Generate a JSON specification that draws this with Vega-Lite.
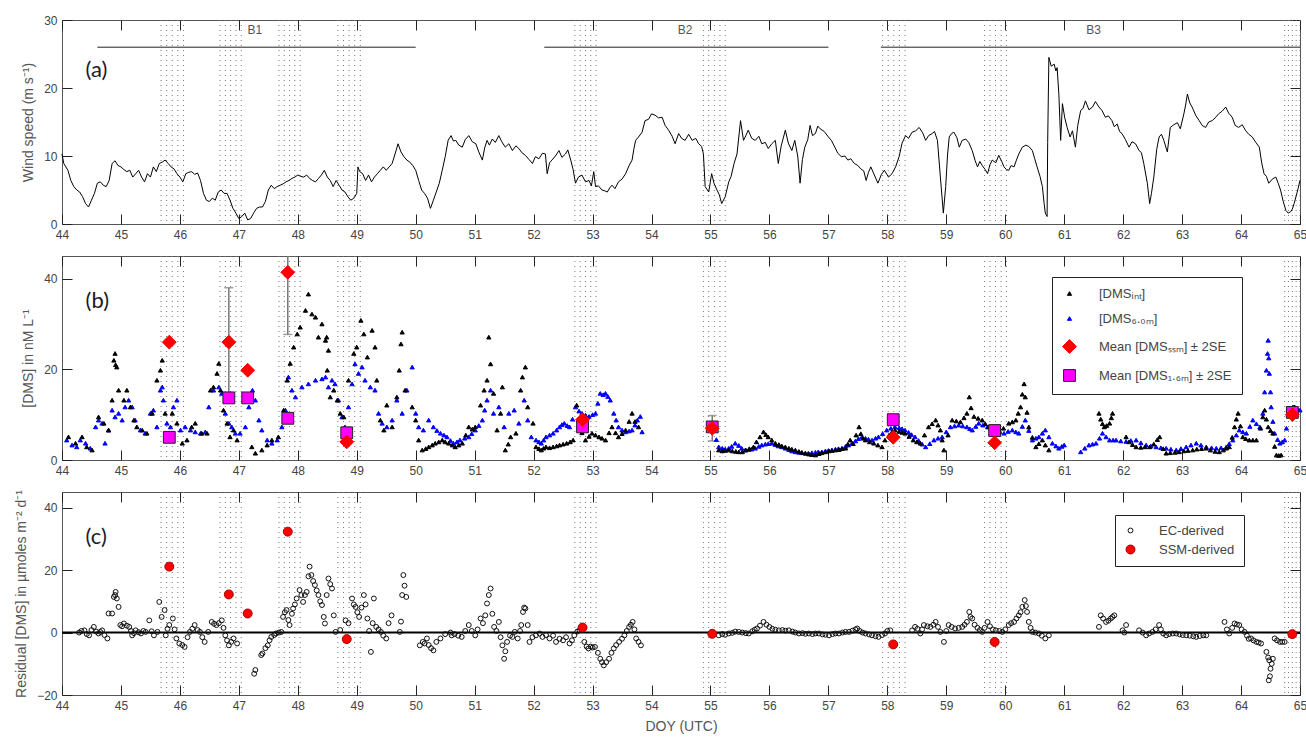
{
"$schema":"https://vega.github.io/schema/vega-lite/v6.json",
"background":"white",
"padding":{"left":14,"top":13,"right":0,"bottom":0},
"bounds":"flush",
"spacing":32,
"resolve":{"scale":{"fill":"independent","stroke":"independent","size":"independent","shape":"independent"},"legend":{"fill":"independent","stroke":"independent","size":"independent","shape":"independent"}},
"config":{
 "font":"Liberation Sans",
 "view":{"stroke":"#555","strokeWidth":1},
 "axis":{"grid":false,"domain":false,"tickSize":-10,"tickColor":"#222","tickWidth":1,"labelPadding":15,"labelColor":"#444","labelFontSize":12,"titleColor":"#555","titleFontSize":14,"titleFontWeight":"normal","labelFlush":false,"titlePadding":8}
},
"datasets":{
 "bands":[{"doy":45.68},{"doy":45.775},{"doy":45.87},{"doy":45.965},{"doy":46.06},
  {"doy":46.68},{"doy":46.77},{"doy":46.86},{"doy":46.95},{"doy":47.04},
  {"doy":47.68},{"doy":47.77},{"doy":47.86},{"doy":47.95},{"doy":48.04},
  {"doy":48.68},{"doy":48.775},{"doy":48.87},{"doy":48.965},{"doy":49.06},
  {"doy":52.70},{"doy":52.79},{"doy":52.88},{"doy":52.97},{"doy":53.06},
  {"doy":54.88},{"doy":54.97},{"doy":55.065},{"doy":55.16},{"doy":55.25},
  {"doy":57.92},{"doy":58.015},{"doy":58.11},{"doy":58.205},{"doy":58.30},
  {"doy":59.65},{"doy":59.74},{"doy":59.835},{"doy":59.93},{"doy":60.02},
  {"doy":64.74},{"doy":64.805},{"doy":64.87},{"doy":64.935},{"doy":65.0}],
 "blines":[{"label":"B1","start":44.6,"end":50.0,"mid":47.27},{"label":"B2","start":52.18,"end":57.0,"mid":54.57},{"label":"B3","start":57.89,"end":65.0,"mid":61.5}],
 "wind":[
{"doy":44.0,"ws":10.3},{"doy":44.03,"ws":8.9},{"doy":44.1,"ws":7.9},{"doy":44.15,"ws":6.4},{"doy":44.2,"ws":5.5},{"doy":44.25,"ws":5.0},{"doy":44.3,"ws":4.7},{"doy":44.35,"ws":4.0},{"doy":44.4,"ws":3.0},{"doy":44.45,"ws":2.5},{"doy":44.5,"ws":3.5},{"doy":44.55,"ws":4.5},{"doy":44.6,"ws":6.0},{"doy":44.65,"ws":6.2},{"doy":44.7,"ws":5.7},{"doy":44.75,"ws":5.5},{"doy":44.8,"ws":6.4},{"doy":44.85,"ws":8.9},{"doy":44.9,"ws":9.3},{"doy":44.95,"ws":8.6},{"doy":45.0,"ws":8.4},{"doy":45.05,"ws":8.0},{"doy":45.1,"ws":7.7},{"doy":45.15,"ws":7.9},{"doy":45.2,"ws":6.9},{"doy":45.25,"ws":7.4},{"doy":45.3,"ws":7.9},{"doy":45.35,"ws":6.9},{"doy":45.4,"ws":6.2},{"doy":45.45,"ws":7.4},{"doy":45.5,"ws":6.9},{"doy":45.55,"ws":8.4},{"doy":45.6,"ws":7.7},{"doy":45.65,"ws":8.9},{"doy":45.7,"ws":9.1},{"doy":45.75,"ws":9.4},{"doy":45.8,"ws":8.9},{"doy":45.85,"ws":8.4},{"doy":45.9,"ws":8.1},{"doy":45.95,"ws":7.4},{"doy":46.0,"ws":6.9},{"doy":46.05,"ws":6.2},{"doy":46.1,"ws":7.4},{"doy":46.15,"ws":7.6},{"doy":46.2,"ws":7.7},{"doy":46.25,"ws":7.3},{"doy":46.3,"ws":7.5},{"doy":46.35,"ws":6.4},{"doy":46.4,"ws":4.5},{"doy":46.45,"ws":3.5},{"doy":46.5,"ws":3.3},{"doy":46.55,"ws":3.8},{"doy":46.6,"ws":3.5},{"doy":46.65,"ws":4.7},{"doy":46.7,"ws":5.0},{"doy":46.75,"ws":4.5},{"doy":46.8,"ws":4.5},{"doy":46.85,"ws":3.5},{"doy":46.9,"ws":2.3},{"doy":46.95,"ws":1.6},{"doy":47.0,"ws":0.8},{"doy":47.05,"ws":1.1},{"doy":47.1,"ws":1.6},{"doy":47.15,"ws":0.6},{"doy":47.2,"ws":0.8},{"doy":47.25,"ws":1.6},{"doy":47.3,"ws":2.3},{"doy":47.35,"ws":2.5},{"doy":47.4,"ws":2.5},{"doy":47.45,"ws":3.3},{"doy":47.5,"ws":5.0},{"doy":47.55,"ws":5.7},{"doy":47.6,"ws":5.2},{"doy":47.65,"ws":5.5},{"doy":47.7,"ws":5.7},{"doy":47.75,"ws":5.9},{"doy":47.8,"ws":6.2},{"doy":47.85,"ws":6.4},{"doy":47.9,"ws":6.7},{"doy":47.95,"ws":6.9},{"doy":48.0,"ws":7.2},{"doy":48.05,"ws":7.0},{"doy":48.1,"ws":6.9},{"doy":48.15,"ws":7.2},{"doy":48.2,"ws":6.7},{"doy":48.25,"ws":6.4},{"doy":48.3,"ws":6.2},{"doy":48.35,"ws":6.7},{"doy":48.4,"ws":7.2},{"doy":48.45,"ws":7.9},{"doy":48.5,"ws":6.9},{"doy":48.55,"ws":6.4},{"doy":48.6,"ws":5.5},{"doy":48.65,"ws":6.4},{"doy":48.7,"ws":5.7},{"doy":48.75,"ws":5.0},{"doy":48.8,"ws":4.7},{"doy":48.85,"ws":4.0},{"doy":48.9,"ws":3.5},{"doy":48.95,"ws":3.8},{"doy":49.0,"ws":4.5},{"doy":49.02,"ws":8.4},{"doy":49.05,"ws":7.7},{"doy":49.1,"ws":7.4},{"doy":49.15,"ws":6.4},{"doy":49.2,"ws":7.2},{"doy":49.25,"ws":6.2},{"doy":49.3,"ws":6.9},{"doy":49.35,"ws":7.4},{"doy":49.4,"ws":7.9},{"doy":49.45,"ws":8.4},{"doy":49.5,"ws":7.9},{"doy":49.55,"ws":8.4},{"doy":49.6,"ws":8.9},{"doy":49.65,"ws":10.3},{"doy":49.7,"ws":11.8},{"doy":49.75,"ws":10.6},{"doy":49.8,"ws":9.9},{"doy":49.85,"ws":9.4},{"doy":49.9,"ws":9.1},{"doy":49.95,"ws":8.6},{"doy":50.0,"ws":7.9},{"doy":50.05,"ws":6.4},{"doy":50.1,"ws":5.0},{"doy":50.15,"ws":4.5},{"doy":50.2,"ws":3.8},{"doy":50.25,"ws":2.3},{"doy":50.3,"ws":3.5},{"doy":50.4,"ws":6.0},{"doy":50.45,"ws":7.9},{"doy":50.5,"ws":9.9},{"doy":50.55,"ws":12.3},
{"doy":50.6,"ws":13.0},{"doy":50.64,"ws":12.2},{"doy":50.68,"ws":12.3},{"doy":50.73,"ws":11.6},{"doy":50.79,"ws":11.3},{"doy":50.84,"ws":12.4},{"doy":50.9,"ws":13.0},{"doy":50.96,"ws":12.1},{"doy":51.02,"ws":11.8},{"doy":51.07,"ws":10.6},{"doy":51.13,"ws":9.4},{"doy":51.17,"ws":11.2},{"doy":51.21,"ws":12.3},{"doy":51.25,"ws":11.6},{"doy":51.3,"ws":12.5},{"doy":51.35,"ws":12.0},{"doy":51.41,"ws":13.0},{"doy":51.46,"ws":12.1},{"doy":51.52,"ws":11.3},{"doy":51.58,"ws":11.8},{"doy":51.64,"ws":10.8},{"doy":51.7,"ws":11.5},{"doy":51.75,"ws":11.1},{"doy":51.8,"ws":10.5},{"doy":51.86,"ws":10.1},{"doy":51.92,"ws":9.5},{"doy":51.98,"ws":8.9},{"doy":52.03,"ws":9.9},{"doy":52.09,"ws":9.6},{"doy":52.15,"ws":10.4},{"doy":52.2,"ws":10.3},{"doy":52.23,"ws":7.4},{"doy":52.27,"ws":9.0},{"doy":52.31,"ws":9.4},{"doy":52.37,"ws":10.0},{"doy":52.43,"ws":10.8},{"doy":52.48,"ws":9.8},{"doy":52.54,"ws":10.3},{"doy":52.58,"ws":10.9},{"doy":52.63,"ws":9.4},{"doy":52.67,"ws":8.0},{"doy":52.71,"ws":6.0},{"doy":52.76,"ws":6.9},{"doy":52.82,"ws":7.2},{"doy":52.88,"ws":6.2},{"doy":52.94,"ws":6.4},{"doy":52.98,"ws":5.6},{"doy":53.02,"ws":7.7},{"doy":53.05,"ws":5.5},{"doy":53.1,"ws":5.6},{"doy":53.16,"ws":5.0},{"doy":53.2,"ws":4.9},{"doy":53.25,"ws":4.7},{"doy":53.29,"ws":5.3},{"doy":53.33,"ws":5.7},{"doy":53.38,"ws":5.2},{"doy":53.44,"ws":6.2},{"doy":53.5,"ws":6.6},{"doy":53.56,"ws":7.4},{"doy":53.62,"ws":8.6},{"doy":53.67,"ws":9.4},{"doy":53.7,"ws":11.0},{"doy":53.73,"ws":12.3},{"doy":53.78,"ws":12.8},{"doy":53.84,"ws":13.5},{"doy":53.89,"ws":15.2},{"doy":53.95,"ws":15.4},{"doy":54.0,"ws":16.2},{"doy":54.06,"ws":16.0},{"doy":54.12,"ws":15.6},{"doy":54.18,"ws":15.7},{"doy":54.23,"ws":14.5},{"doy":54.29,"ws":13.8},{"doy":54.35,"ws":12.9},{"doy":54.4,"ws":11.8},{"doy":54.46,"ws":13.3},{"doy":54.51,"ws":12.6},{"doy":54.57,"ws":12.3},{"doy":54.63,"ws":13.2},{"doy":54.69,"ws":12.3},{"doy":54.75,"ws":12.6},{"doy":54.8,"ws":11.8},{"doy":54.85,"ws":11.4},{"doy":54.88,"ws":10.3},{"doy":54.91,"ws":5.5},{"doy":54.97,"ws":4.7},{"doy":55.02,"ws":7.4},{"doy":55.06,"ws":6.0},{"doy":55.11,"ws":5.0},{"doy":55.15,"ws":4.3},{"doy":55.19,"ws":3.0},{"doy":55.25,"ws":4.0},{"doy":55.31,"ws":6.2},{"doy":55.35,"ws":7.0},{"doy":55.4,"ws":8.9},{"doy":55.45,"ws":10.3},{"doy":55.51,"ws":15.2},{"doy":55.56,"ws":12.3},{"doy":55.6,"ws":13.0},{"doy":55.64,"ws":13.8},{"doy":55.7,"ws":12.6},{"doy":55.76,"ws":12.3},{"doy":55.82,"ws":12.9},{"doy":55.87,"ws":11.8},{"doy":55.93,"ws":12.0},{"doy":55.98,"ws":11.1},{"doy":56.04,"ws":11.8},{"doy":56.1,"ws":12.3},{"doy":56.15,"ws":8.9},{"doy":56.2,"ws":11.5},{"doy":56.27,"ws":13.8},{"doy":56.32,"ws":11.9},{"doy":56.38,"ws":10.8},{"doy":56.43,"ws":12.3},{"doy":56.48,"ws":10.0},{"doy":56.52,"ws":6.0},{"doy":56.56,"ws":9.5},{"doy":56.6,"ws":11.3},{"doy":56.65,"ws":12.4},{"doy":56.69,"ws":14.5},{"doy":56.73,"ws":13.0},{"doy":56.78,"ws":13.3},{"doy":56.82,"ws":14.4},{"doy":56.86,"ws":14.0},{"doy":56.93,"ws":13.6},{"doy":57.0,"ws":12.8},{"doy":57.05,"ws":12.3},{"doy":57.11,"ws":11.3},{"doy":57.16,"ws":10.4},{"doy":57.22,"ws":9.9},{"doy":57.28,"ws":10.0},{"doy":57.33,"ws":9.4},{"doy":57.38,"ws":9.6},{"doy":57.44,"ws":8.9},{"doy":57.5,"ws":8.6},{"doy":57.55,"ws":8.1},{"doy":57.6,"ws":7.8},{"doy":57.64,"ws":6.4},{"doy":57.68,"ws":7.6},{"doy":57.72,"ws":8.4},{"doy":57.78,"ws":7.2},{"doy":57.84,"ws":6.0},{"doy":57.9,"ws":7.3},{"doy":57.95,"ws":7.9},{"doy":58.02,"ws":6.9},{"doy":58.08,"ws":7.4},{"doy":58.14,"ws":8.4},{"doy":58.2,"ws":9.9},{"doy":58.25,"ws":11.9},{"doy":58.31,"ws":13.0},{"doy":58.36,"ws":12.6},{"doy":58.42,"ws":13.5},{"doy":58.48,"ws":13.7},{"doy":58.54,"ws":14.2},{"doy":58.6,"ws":13.4},{"doy":58.65,"ws":12.3},{"doy":58.7,"ws":13.0},{"doy":58.76,"ws":13.3},{"doy":58.8,"ws":13.6},{"doy":58.85,"ws":12.3},{"doy":58.9,"ws":6.9},{"doy":58.95,"ws":1.6},{"doy":58.99,"ws":5.5},{"doy":59.02,"ws":10.0},{"doy":59.05,"ws":12.8},{"doy":59.09,"ws":13.3},{"doy":59.13,"ws":13.5},{"doy":59.18,"ws":12.7},{"doy":59.22,"ws":11.3},{"doy":59.27,"ws":12.3},{"doy":59.33,"ws":12.5},{"doy":59.38,"ws":12.0},{"doy":59.44,"ws":10.8},{"doy":59.49,"ws":9.3},{"doy":59.53,"ws":8.4},{"doy":59.57,"ws":9.2},{"doy":59.61,"ws":8.6},{"doy":59.66,"ws":8.0},{"doy":59.7,"ws":7.4},{"doy":59.74,"ws":8.7},{"doy":59.78,"ws":9.4},{"doy":59.84,"ws":9.0},{"doy":59.89,"ws":10.1},{"doy":59.94,"ws":9.2},{"doy":59.98,"ws":8.4},{"doy":60.02,"ws":8.0},{"doy":60.06,"ws":7.9},{"doy":60.1,"ws":8.6},{"doy":60.15,"ws":8.4},{"doy":60.19,"ws":9.4},{"doy":60.23,"ws":10.3},{"doy":60.29,"ws":11.3},{"doy":60.35,"ws":11.6},{"doy":60.4,"ws":11.4},{"doy":60.46,"ws":10.8},{"doy":60.5,"ws":9.6},{"doy":60.54,"ws":8.4},{"doy":60.59,"ws":7.0},{"doy":60.63,"ws":5.5},{"doy":60.66,"ws":3.0},{"doy":60.68,"ws":1.6},{"doy":60.71,"ws":1.1},{"doy":60.72,"ws":12.0},{"doy":60.74,"ws":24.5},{"doy":60.78,"ws":23.2},{"doy":60.83,"ws":23.5},{"doy":60.86,"ws":22.5},{"doy":60.88,"ws":23.0},{"doy":60.91,"ws":19.0},{"doy":60.94,"ws":12.3},{"doy":60.97,"ws":17.7},{"doy":61.01,"ws":15.6},{"doy":61.05,"ws":14.2},{"doy":61.1,"ws":12.8},{"doy":61.14,"ws":13.7},{"doy":61.19,"ws":11.3},{"doy":61.23,"ws":14.5},{"doy":61.28,"ws":16.7},{"doy":61.32,"ws":17.0},{"doy":61.36,"ws":18.1},{"doy":61.42,"ws":16.8},{"doy":61.48,"ws":17.2},{"doy":61.53,"ws":18.0},{"doy":61.59,"ws":17.2},{"doy":61.64,"ws":16.7},{"doy":61.7,"ws":15.7},{"doy":61.75,"ws":15.9},{"doy":61.81,"ws":15.2},{"doy":61.85,"ws":14.3},{"doy":61.9,"ws":14.7},{"doy":61.94,"ws":13.6},{"doy":61.98,"ws":13.3},{"doy":62.04,"ws":12.4},{"doy":62.1,"ws":11.3},{"doy":62.15,"ws":12.1},{"doy":62.21,"ws":11.8},{"doy":62.27,"ws":10.8},{"doy":62.31,"ws":10.5},{"doy":62.35,"ws":8.9},{"doy":62.41,"ws":6.0},{"doy":62.45,"ws":3.0},{"doy":62.48,"ws":4.5},{"doy":62.52,"ws":6.9},{"doy":62.57,"ws":11.0},{"doy":62.61,"ws":12.8},{"doy":62.65,"ws":13.2},{"doy":62.69,"ws":12.3},{"doy":62.75,"ws":10.6},{"doy":62.8,"ws":14.2},{"doy":62.86,"ws":14.6},{"doy":62.92,"ws":14.9},{"doy":62.97,"ws":14.0},{"doy":63.03,"ws":16.2},{"doy":63.06,"ws":17.5},{"doy":63.09,"ws":19.1},{"doy":63.13,"ws":17.8},{"doy":63.17,"ws":17.2},{"doy":63.23,"ws":16.0},{"doy":63.29,"ws":15.2},{"doy":63.34,"ws":14.5},{"doy":63.4,"ws":14.2},{"doy":63.45,"ws":15.0},{"doy":63.51,"ws":15.2},{"doy":63.56,"ws":15.6},{"doy":63.62,"ws":16.2},{"doy":63.68,"ws":16.6},{"doy":63.74,"ws":17.2},{"doy":63.79,"ws":16.3},{"doy":63.85,"ws":15.7},{"doy":63.9,"ws":14.5},{"doy":63.96,"ws":14.2},{"doy":64.02,"ws":14.6},{"doy":64.08,"ws":13.7},{"doy":64.13,"ws":13.2},{"doy":64.19,"ws":12.8},{"doy":64.25,"ws":12.0},{"doy":64.31,"ws":11.3},{"doy":64.35,"ws":9.0},{"doy":64.39,"ws":7.4},{"doy":64.43,"ws":7.0},{"doy":64.47,"ws":6.0},{"doy":64.53,"ws":6.6},{"doy":64.59,"ws":6.9},{"doy":64.63,"ws":6.0},{"doy":64.67,"ws":5.0},{"doy":64.71,"ws":3.5},{"doy":64.76,"ws":2.0},{"doy":64.8,"ws":1.6},{"doy":64.84,"ws":1.8},{"doy":64.87,"ws":2.2},{"doy":64.9,"ws":3.0},{"doy":64.95,"ws":4.6},{"doy":65.0,"ws":6.4}],
 "err":[{"doy":46.83,"lo":14.0,"hi":38.0},{"doy":47.83,"lo":27.7,"hi":55.0},{"doy":55.03,"lo":4.2,"hi":9.8}],
 "dms":[
{"doy":44.08,"v":4.4,"s":"6.0m"},{"doy":44.17,"v":3.3,"s":"6.0m"},{"doy":44.25,"v":2.9,"s":"6.0m"},{"doy":44.31,"v":4.4,"s":"6.0m"},{"doy":44.4,"v":3.7,"s":"6.0m"},{"doy":44.48,"v":2.6,"s":"6.0m"},{"doy":44.57,"v":7.3,"s":"6.0m"},{"doy":44.62,"v":8.8,"s":"6.0m"},{"doy":44.68,"v":8.1,"s":"6.0m"},{"doy":44.73,"v":3.7,"s":"6.0m"},{"doy":44.79,"v":6.6,"s":"6.0m"},{"doy":44.85,"v":11.0,"s":"6.0m"},{"doy":44.9,"v":9.5,"s":"6.0m"},{"doy":44.96,"v":10.3,"s":"6.0m"},{"doy":45.02,"v":8.8,"s":"6.0m"},{"doy":45.07,"v":11.7,"s":"6.0m"},{"doy":45.13,"v":13.2,"s":"6.0m"},{"doy":45.19,"v":11.7,"s":"6.0m"},{"doy":45.24,"v":8.8,"s":"6.0m"},{"doy":45.33,"v":6.6,"s":"6.0m"},{"doy":45.41,"v":5.9,"s":"6.0m"},{"doy":45.5,"v":10.3,"s":"6.0m"},{"doy":45.55,"v":11.0,"s":"6.0m"},{"doy":45.61,"v":7.3,"s":"6.0m"},{"doy":45.67,"v":15.4,"s":"6.0m"},{"doy":45.7,"v":16.1,"s":"6.0m"},{"doy":45.72,"v":13.2,"s":"6.0m"},{"doy":45.78,"v":8.1,"s":"6.0m"},{"doy":45.84,"v":7.3,"s":"6.0m"},{"doy":45.89,"v":11.7,"s":"6.0m"},{"doy":45.95,"v":13.2,"s":"6.0m"},{"doy":46.01,"v":6.6,"s":"6.0m"},{"doy":46.09,"v":7.3,"s":"6.0m"},{"doy":46.18,"v":6.6,"s":"6.0m"},{"doy":46.26,"v":6.2,"s":"6.0m"},{"doy":46.35,"v":5.9,"s":"6.0m"},{"doy":46.43,"v":6.2,"s":"6.0m"},{"doy":46.49,"v":11.7,"s":"6.0m"},{"doy":46.57,"v":15.4,"s":"6.0m"},{"doy":46.66,"v":16.1,"s":"6.0m"},{"doy":46.71,"v":14.7,"s":"6.0m"},{"doy":46.77,"v":10.3,"s":"6.0m"},{"doy":46.83,"v":8.1,"s":"6.0m"},{"doy":46.88,"v":7.3,"s":"6.0m"},{"doy":46.94,"v":5.9,"s":"6.0m"},{"doy":47.02,"v":5.9,"s":"6.0m"},{"doy":47.11,"v":7.3,"s":"6.0m"},{"doy":47.17,"v":11.7,"s":"6.0m"},{"doy":47.23,"v":15.4,"s":"6.0m"},{"doy":47.28,"v":13.2,"s":"6.0m"},{"doy":47.34,"v":8.8,"s":"6.0m"},{"doy":47.39,"v":6.6,"s":"6.0m"},{"doy":47.48,"v":4.4,"s":"6.0m"},{"doy":47.56,"v":3.7,"s":"6.0m"},{"doy":47.65,"v":4.4,"s":"6.0m"},{"doy":47.73,"v":7.3,"s":"6.0m"},{"doy":47.79,"v":11.0,"s":"6.0m"},{"doy":47.84,"v":18.3,"s":"6.0m"},{"doy":47.9,"v":15.4,"s":"6.0m"},{"doy":47.96,"v":13.9,"s":"6.0m"},{"doy":48.07,"v":16.1,"s":"6.0m"},{"doy":48.18,"v":16.8,"s":"6.0m"},{"doy":48.3,"v":17.6,"s":"6.0m"},{"doy":48.41,"v":17.9,"s":"6.0m"},{"doy":48.47,"v":18.3,"s":"6.0m"},{"doy":48.52,"v":16.1,"s":"6.0m"},{"doy":48.58,"v":17.6,"s":"6.0m"},{"doy":48.63,"v":16.8,"s":"6.0m"},{"doy":48.69,"v":13.2,"s":"6.0m"},{"doy":48.75,"v":9.5,"s":"6.0m"},{"doy":48.8,"v":7.3,"s":"6.0m"},{"doy":48.86,"v":11.7,"s":"6.0m"},{"doy":48.92,"v":16.8,"s":"6.0m"},{"doy":48.97,"v":21.2,"s":"6.0m"},{"doy":49.03,"v":19.1,"s":"6.0m"},{"doy":49.09,"v":20.5,"s":"6.0m"},{"doy":49.14,"v":17.6,"s":"6.0m"},{"doy":49.23,"v":16.1,"s":"6.0m"},{"doy":49.31,"v":15.4,"s":"6.0m"},{"doy":49.37,"v":10.3,"s":"6.0m"},{"doy":49.43,"v":8.1,"s":"6.0m"},{"doy":49.51,"v":7.3,"s":"6.0m"},{"doy":49.6,"v":8.8,"s":"6.0m"},{"doy":49.68,"v":13.2,"s":"6.0m"},{"doy":49.77,"v":10.3,"s":"6.0m"},{"doy":49.85,"v":15.4,"s":"6.0m"},{"doy":49.94,"v":20.5,"s":"6.0m"},{"doy":50.0,"v":10.3,"s":"6.0m"},{"doy":50.05,"v":7.3,"s":"6.0m"},{"doy":50.13,"v":6.6,"s":"6.0m"},{"doy":50.22,"v":8.8,"s":"6.0m"},{"doy":50.3,"v":7.3,"s":"6.0m"},{"doy":50.36,"v":6.5,"s":"6.0m"},{"doy":50.42,"v":5.9,"s":"6.0m"},{"doy":50.48,"v":5.5,"s":"6.0m"},{"doy":50.53,"v":5.1,"s":"6.0m"},{"doy":50.59,"v":4.3,"s":"6.0m"},{"doy":50.64,"v":3.7,"s":"6.0m"},{"doy":50.7,"v":4.0,"s":"6.0m"},{"doy":50.75,"v":4.4,"s":"6.0m"},{"doy":50.83,"v":4.8,"s":"6.0m"},{"doy":50.9,"v":5.1,"s":"6.0m"},{"doy":50.95,"v":5.8,"s":"6.0m"},{"doy":51.01,"v":6.6,"s":"6.0m"},{"doy":51.07,"v":7.6,"s":"6.0m"},{"doy":51.13,"v":8.8,"s":"6.0m"},{"doy":51.17,"v":11.0,"s":"6.0m"},{"doy":51.21,"v":13.2,"s":"6.0m"},{"doy":51.27,"v":15.4,"s":"6.0m"},{"doy":51.32,"v":10.3,"s":"6.0m"},{"doy":51.41,"v":11.7,"s":"6.0m"},{"doy":51.5,"v":7.3,"s":"6.0m"},{"doy":51.58,"v":10.3,"s":"6.0m"},{"doy":51.67,"v":11.0,"s":"6.0m"},{"doy":51.75,"v":8.1,"s":"6.0m"},{"doy":51.84,"v":13.2,"s":"6.0m"},{"doy":51.9,"v":8.8,"s":"6.0m"},{"doy":51.96,"v":5.1,"s":"6.0m"},{"doy":52.04,"v":4.4,"s":"6.0m"},{"doy":52.09,"v":4.0,"s":"6.0m"},{"doy":52.13,"v":3.7,"s":"6.0m"},{"doy":52.17,"v":4.4,"s":"6.0m"},{"doy":52.21,"v":5.1,"s":"6.0m"},{"doy":52.27,"v":5.5,"s":"6.0m"},{"doy":52.33,"v":5.9,"s":"6.0m"},{"doy":52.39,"v":6.6,"s":"6.0m"},{"doy":52.44,"v":7.3,"s":"6.0m"},{"doy":52.48,"v":7.8,"s":"6.0m"},{"doy":52.52,"v":8.1,"s":"6.0m"},{"doy":52.57,"v":7.6,"s":"6.0m"},{"doy":52.61,"v":7.3,"s":"6.0m"},{"doy":52.66,"v":9.0,"s":"6.0m"},{"doy":52.71,"v":11.7,"s":"6.0m"},{"doy":52.77,"v":10.8,"s":"6.0m"},{"doy":52.82,"v":10.3,"s":"6.0m"},{"doy":52.88,"v":9.9,"s":"6.0m"},{"doy":52.94,"v":9.6,"s":"6.0m"},{"doy":53.0,"v":10.0,"s":"6.0m"},{"doy":53.05,"v":10.3,"s":"6.0m"},{"doy":53.09,"v":12.5,"s":"6.0m"},{"doy":53.13,"v":14.7,"s":"6.0m"},{"doy":53.18,"v":14.4,"s":"6.0m"},{"doy":53.22,"v":14.7,"s":"6.0m"},{"doy":53.26,"v":14.0,"s":"6.0m"},{"doy":53.3,"v":13.2,"s":"6.0m"},{"doy":53.36,"v":10.3,"s":"6.0m"},{"doy":53.4,"v":8.8,"s":"6.0m"},{"doy":53.44,"v":7.3,"s":"6.0m"},{"doy":53.5,"v":6.6,"s":"6.0m"},{"doy":53.56,"v":6.2,"s":"6.0m"},{"doy":53.62,"v":6.4,"s":"6.0m"},{"doy":53.67,"v":6.6,"s":"6.0m"},{"doy":53.72,"v":7.7,"s":"6.0m"},{"doy":53.76,"v":8.8,"s":"6.0m"},{"doy":53.81,"v":9.6,"s":"6.0m"},{"doy":53.84,"v":6.2,"s":"6.0m"},
{"doy":55.1,"v":4.5,"s":"6.0m"},{"doy":55.14,"v":2.9,"s":"6.0m"},{"doy":55.2,"v":2.6,"s":"6.0m"},{"doy":55.25,"v":2.4,"s":"6.0m"},{"doy":55.31,"v":2.6,"s":"6.0m"},{"doy":55.36,"v":3.0,"s":"6.0m"},{"doy":55.42,"v":3.7,"s":"6.0m"},{"doy":55.48,"v":3.2,"s":"6.0m"},{"doy":55.53,"v":2.6,"s":"6.0m"},{"doy":55.59,"v":2.2,"s":"6.0m"},{"doy":55.65,"v":2.3,"s":"6.0m"},{"doy":55.7,"v":2.4,"s":"6.0m"},{"doy":55.76,"v":2.6,"s":"6.0m"},{"doy":55.82,"v":3.0,"s":"6.0m"},{"doy":55.87,"v":3.3,"s":"6.0m"},{"doy":55.93,"v":3.5,"s":"6.0m"},{"doy":55.98,"v":3.6,"s":"6.0m"},{"doy":56.04,"v":3.7,"s":"6.0m"},{"doy":56.1,"v":3.4,"s":"6.0m"},{"doy":56.15,"v":3.1,"s":"6.0m"},{"doy":56.21,"v":2.9,"s":"6.0m"},{"doy":56.27,"v":2.6,"s":"6.0m"},{"doy":56.33,"v":2.3,"s":"6.0m"},{"doy":56.38,"v":2.0,"s":"6.0m"},{"doy":56.44,"v":1.8,"s":"6.0m"},{"doy":56.5,"v":1.7,"s":"6.0m"},{"doy":56.55,"v":1.6,"s":"6.0m"},{"doy":56.61,"v":1.5,"s":"6.0m"},{"doy":56.66,"v":1.5,"s":"6.0m"},{"doy":56.72,"v":1.6,"s":"6.0m"},{"doy":56.78,"v":1.7,"s":"6.0m"},{"doy":56.83,"v":1.8,"s":"6.0m"},{"doy":56.89,"v":1.8,"s":"6.0m"},{"doy":56.95,"v":2.0,"s":"6.0m"},{"doy":57.0,"v":2.1,"s":"6.0m"},{"doy":57.06,"v":2.2,"s":"6.0m"},{"doy":57.12,"v":2.4,"s":"6.0m"},{"doy":57.17,"v":2.5,"s":"6.0m"},{"doy":57.23,"v":2.6,"s":"6.0m"},{"doy":57.29,"v":3.0,"s":"6.0m"},{"doy":57.34,"v":3.3,"s":"6.0m"},{"doy":57.4,"v":3.7,"s":"6.0m"},{"doy":57.46,"v":4.2,"s":"6.0m"},{"doy":57.51,"v":4.7,"s":"6.0m"},{"doy":57.57,"v":5.1,"s":"6.0m"},{"doy":57.63,"v":4.8,"s":"6.0m"},{"doy":57.68,"v":4.6,"s":"6.0m"},{"doy":57.74,"v":4.4,"s":"6.0m"},{"doy":57.8,"v":4.8,"s":"6.0m"},{"doy":57.85,"v":5.1,"s":"6.0m"},{"doy":57.92,"v":5.8,"s":"6.0m"},{"doy":57.99,"v":6.6,"s":"6.0m"},{"doy":58.06,"v":7.0,"s":"6.0m"},{"doy":58.13,"v":7.3,"s":"6.0m"},{"doy":58.2,"v":7.1,"s":"6.0m"},{"doy":58.25,"v":6.9,"s":"6.0m"},{"doy":58.3,"v":6.6,"s":"6.0m"},{"doy":58.36,"v":6.1,"s":"6.0m"},{"doy":58.41,"v":5.6,"s":"6.0m"},{"doy":58.47,"v":5.1,"s":"6.0m"},{"doy":58.53,"v":4.3,"s":"6.0m"},{"doy":58.59,"v":3.5,"s":"6.0m"},{"doy":58.65,"v":2.9,"s":"6.0m"},{"doy":58.72,"v":3.6,"s":"6.0m"},{"doy":58.79,"v":4.4,"s":"6.0m"},{"doy":58.86,"v":4.8,"s":"6.0m"},{"doy":58.93,"v":5.1,"s":"6.0m"},{"doy":59.0,"v":6.2,"s":"6.0m"},{"doy":59.07,"v":7.3,"s":"6.0m"},{"doy":59.14,"v":7.5,"s":"6.0m"},{"doy":59.21,"v":7.7,"s":"6.0m"},{"doy":59.28,"v":7.5,"s":"6.0m"},{"doy":59.35,"v":7.3,"s":"6.0m"},{"doy":59.4,"v":6.9,"s":"6.0m"},{"doy":59.44,"v":6.6,"s":"6.0m"},{"doy":59.5,"v":7.4,"s":"6.0m"},{"doy":59.55,"v":8.1,"s":"6.0m"},{"doy":59.62,"v":7.7,"s":"6.0m"},{"doy":59.7,"v":7.3,"s":"6.0m"},{"doy":59.77,"v":7.0,"s":"6.0m"},{"doy":59.84,"v":6.6,"s":"6.0m"},{"doy":59.91,"v":6.2,"s":"6.0m"},{"doy":59.98,"v":5.9,"s":"6.0m"},{"doy":60.05,"v":6.3,"s":"6.0m"},{"doy":60.12,"v":6.6,"s":"6.0m"},{"doy":60.18,"v":6.2,"s":"6.0m"},{"doy":60.23,"v":5.9,"s":"6.0m"},{"doy":60.29,"v":7.4,"s":"6.0m"},{"doy":60.34,"v":8.8,"s":"6.0m"},{"doy":60.4,"v":6.5,"s":"6.0m"},{"doy":60.46,"v":4.4,"s":"6.0m"},{"doy":60.52,"v":4.8,"s":"6.0m"},{"doy":60.57,"v":5.1,"s":"6.0m"},{"doy":60.63,"v":5.9,"s":"6.0m"},{"doy":60.68,"v":6.6,"s":"6.0m"},{"doy":60.74,"v":5.1,"s":"6.0m"},{"doy":60.8,"v":3.7,"s":"6.0m"},{"doy":60.86,"v":3.1,"s":"6.0m"},{"doy":60.91,"v":2.6,"s":"6.0m"},{"doy":60.96,"v":3.0,"s":"6.0m"},{"doy":61.0,"v":3.3,"s":"6.0m"},{"doy":61.28,"v":1.8,"s":"6.0m"},{"doy":61.35,"v":2.6,"s":"6.0m"},{"doy":61.42,"v":3.3,"s":"6.0m"},{"doy":61.48,"v":3.5,"s":"6.0m"},{"doy":61.54,"v":3.7,"s":"6.0m"},{"doy":61.6,"v":4.8,"s":"6.0m"},{"doy":61.65,"v":5.9,"s":"6.0m"},{"doy":61.71,"v":5.1,"s":"6.0m"},{"doy":61.77,"v":4.4,"s":"6.0m"},{"doy":61.83,"v":4.4,"s":"6.0m"},{"doy":61.88,"v":4.4,"s":"6.0m"},{"doy":61.96,"v":4.2,"s":"6.0m"},{"doy":62.05,"v":4.1,"s":"6.0m"},{"doy":62.13,"v":4.3,"s":"6.0m"},{"doy":62.22,"v":4.4,"s":"6.0m"},{"doy":62.3,"v":3.8,"s":"6.0m"},{"doy":62.39,"v":3.3,"s":"6.0m"},{"doy":62.47,"v":3.1,"s":"6.0m"},{"doy":62.56,"v":2.9,"s":"6.0m"},{"doy":62.64,"v":2.7,"s":"6.0m"},{"doy":62.73,"v":2.6,"s":"6.0m"},{"doy":62.81,"v":2.4,"s":"6.0m"},{"doy":62.9,"v":2.2,"s":"6.0m"},{"doy":62.98,"v":2.5,"s":"6.0m"},{"doy":63.07,"v":2.9,"s":"6.0m"},{"doy":63.15,"v":3.3,"s":"6.0m"},{"doy":63.24,"v":3.7,"s":"6.0m"},{"doy":63.32,"v":3.3,"s":"6.0m"},{"doy":63.41,"v":2.9,"s":"6.0m"},{"doy":63.5,"v":2.7,"s":"6.0m"},{"doy":63.58,"v":2.6,"s":"6.0m"},{"doy":63.66,"v":2.7,"s":"6.0m"},{"doy":63.75,"v":2.9,"s":"6.0m"},{"doy":63.8,"v":3.6,"s":"6.0m"},{"doy":63.86,"v":4.4,"s":"6.0m"},{"doy":63.92,"v":5.5,"s":"6.0m"},{"doy":63.97,"v":6.6,"s":"6.0m"},{"doy":64.03,"v":6.2,"s":"6.0m"},{"doy":64.09,"v":5.9,"s":"6.0m"},{"doy":64.15,"v":7.4,"s":"6.0m"},{"doy":64.2,"v":8.8,"s":"6.0m"},{"doy":64.26,"v":8.0,"s":"6.0m"},{"doy":64.32,"v":7.3,"s":"6.0m"},{"doy":64.37,"v":10.3,"s":"6.0m"},{"doy":64.4,"v":15.0,"s":"6.0m"},{"doy":64.43,"v":19.8,"s":"6.0m"},{"doy":64.45,"v":23.5,"s":"6.0m"},{"doy":64.46,"v":26.4,"s":"6.0m"},{"doy":64.47,"v":22.5,"s":"6.0m"},{"doy":64.48,"v":19.1,"s":"6.0m"},{"doy":64.5,"v":15.0,"s":"6.0m"},{"doy":64.51,"v":11.7,"s":"6.0m"},{"doy":64.54,"v":8.5,"s":"6.0m"},{"doy":64.57,"v":5.9,"s":"6.0m"},{"doy":64.62,"v":4.5,"s":"6.0m"},{"doy":64.66,"v":3.7,"s":"6.0m"},{"doy":64.7,"v":4.0,"s":"6.0m"},{"doy":64.74,"v":4.4,"s":"6.0m"},{"doy":64.77,"v":7.0,"s":"6.0m"},{"doy":64.8,"v":10.3,"s":"6.0m"},{"doy":64.85,"v":11.0,"s":"6.0m"},{"doy":64.91,"v":11.4,"s":"6.0m"},{"doy":64.96,"v":11.2,"s":"6.0m"},{"doy":65.0,"v":11.0,"s":"6.0m"},
{"doy":44.11,"v":5.1,"s":"int"},{"doy":44.23,"v":3.7,"s":"int"},{"doy":44.34,"v":5.1,"s":"int"},{"doy":44.42,"v":2.9,"s":"int"},{"doy":44.51,"v":2.2,"s":"int"},{"doy":44.62,"v":9.5,"s":"int"},{"doy":44.71,"v":8.1,"s":"int"},{"doy":44.79,"v":6.6,"s":"int"},{"doy":44.85,"v":13.2,"s":"int"},{"doy":44.88,"v":22.0,"s":"int"},{"doy":44.9,"v":23.5,"s":"int"},{"doy":44.91,"v":21.0,"s":"int"},{"doy":44.93,"v":20.5,"s":"int"},{"doy":44.96,"v":15.4,"s":"int"},{"doy":45.05,"v":13.2,"s":"int"},{"doy":45.1,"v":15.4,"s":"int"},{"doy":45.16,"v":11.7,"s":"int"},{"doy":45.22,"v":8.8,"s":"int"},{"doy":45.27,"v":7.3,"s":"int"},{"doy":45.36,"v":6.6,"s":"int"},{"doy":45.44,"v":5.9,"s":"int"},{"doy":45.53,"v":10.3,"s":"int"},{"doy":45.61,"v":17.6,"s":"int"},{"doy":45.67,"v":19.8,"s":"int"},{"doy":45.7,"v":22.0,"s":"int"},{"doy":45.75,"v":10.3,"s":"int"},{"doy":45.81,"v":5.9,"s":"int"},{"doy":45.87,"v":10.3,"s":"int"},{"doy":45.95,"v":8.1,"s":"int"},{"doy":46.04,"v":3.7,"s":"int"},{"doy":46.12,"v":4.4,"s":"int"},{"doy":46.2,"v":7.3,"s":"int"},{"doy":46.26,"v":8.1,"s":"int"},{"doy":46.37,"v":5.9,"s":"int"},{"doy":46.46,"v":5.9,"s":"int"},{"doy":46.52,"v":15.4,"s":"int"},{"doy":46.57,"v":16.1,"s":"int"},{"doy":46.63,"v":19.1,"s":"int"},{"doy":46.66,"v":21.3,"s":"int"},{"doy":46.69,"v":15.4,"s":"int"},{"doy":46.74,"v":11.0,"s":"int"},{"doy":46.8,"v":8.1,"s":"int"},{"doy":46.85,"v":5.1,"s":"int"},{"doy":46.91,"v":6.6,"s":"int"},{"doy":46.97,"v":4.4,"s":"int"},{"doy":47.22,"v":2.9,"s":"int"},{"doy":47.28,"v":1.5,"s":"int"},{"doy":47.39,"v":2.2,"s":"int"},{"doy":47.48,"v":3.3,"s":"int"},{"doy":47.56,"v":4.4,"s":"int"},{"doy":47.67,"v":5.1,"s":"int"},{"doy":47.76,"v":11.0,"s":"int"},{"doy":47.82,"v":17.6,"s":"int"},{"doy":47.87,"v":21.3,"s":"int"},{"doy":47.93,"v":24.9,"s":"int"},{"doy":47.99,"v":27.8,"s":"int"},{"doy":48.04,"v":29.3,"s":"int"},{"doy":48.13,"v":33.0,"s":"int"},{"doy":48.18,"v":36.6,"s":"int"},{"doy":48.24,"v":32.2,"s":"int"},{"doy":48.3,"v":31.5,"s":"int"},{"doy":48.35,"v":27.1,"s":"int"},{"doy":48.41,"v":30.0,"s":"int"},{"doy":48.47,"v":26.4,"s":"int"},{"doy":48.49,"v":27.1,"s":"int"},{"doy":48.5,"v":19.8,"s":"int"},{"doy":48.52,"v":24.2,"s":"int"},{"doy":48.55,"v":13.9,"s":"int"},{"doy":48.61,"v":15.4,"s":"int"},{"doy":48.67,"v":13.2,"s":"int"},{"doy":48.72,"v":10.3,"s":"int"},{"doy":48.78,"v":9.5,"s":"int"},{"doy":48.86,"v":17.6,"s":"int"},{"doy":48.95,"v":23.5,"s":"int"},{"doy":49.0,"v":24.9,"s":"int"},{"doy":49.07,"v":30.8,"s":"int"},{"doy":49.12,"v":27.8,"s":"int"},{"doy":49.18,"v":22.7,"s":"int"},{"doy":49.26,"v":28.6,"s":"int"},{"doy":49.31,"v":24.9,"s":"int"},{"doy":49.34,"v":17.6,"s":"int"},{"doy":49.4,"v":8.8,"s":"int"},{"doy":49.46,"v":6.6,"s":"int"},{"doy":49.51,"v":12.1,"s":"int"},{"doy":49.6,"v":7.3,"s":"int"},{"doy":49.68,"v":13.9,"s":"int"},{"doy":49.72,"v":19.8,"s":"int"},{"doy":49.75,"v":25.6,"s":"int"},{"doy":49.77,"v":28.2,"s":"int"},{"doy":49.82,"v":15.4,"s":"int"},{"doy":49.94,"v":11.7,"s":"int"},{"doy":50.0,"v":8.8,"s":"int"},{"doy":50.05,"v":4.4,"s":"int"},{"doy":50.11,"v":2.2,"s":"int"},{"doy":50.17,"v":2.5,"s":"int"},{"doy":50.22,"v":2.9,"s":"int"},{"doy":50.28,"v":3.3,"s":"int"},{"doy":50.33,"v":3.7,"s":"int"},{"doy":50.39,"v":4.0,"s":"int"},{"doy":50.45,"v":4.4,"s":"int"},{"doy":50.5,"v":4.0,"s":"int"},{"doy":50.56,"v":3.7,"s":"int"},{"doy":50.62,"v":3.3,"s":"int"},{"doy":50.67,"v":2.9,"s":"int"},{"doy":50.73,"v":3.3,"s":"int"},{"doy":50.79,"v":3.7,"s":"int"},{"doy":50.85,"v":5.5,"s":"int"},{"doy":50.9,"v":7.3,"s":"int"},{"doy":50.96,"v":6.8,"s":"int"},{"doy":51.01,"v":7.3,"s":"int"},{"doy":51.1,"v":12.1,"s":"int"},{"doy":51.16,"v":15.4,"s":"int"},{"doy":51.21,"v":17.6,"s":"int"},{"doy":51.24,"v":27.1,"s":"int"},{"doy":51.27,"v":21.2,"s":"int"},{"doy":51.32,"v":14.7,"s":"int"},{"doy":51.38,"v":6.6,"s":"int"},{"doy":51.44,"v":10.3,"s":"int"},{"doy":51.47,"v":16.1,"s":"int"},{"doy":51.52,"v":2.2,"s":"int"},{"doy":51.57,"v":3.5,"s":"int"},{"doy":51.61,"v":5.1,"s":"int"},{"doy":51.7,"v":5.9,"s":"int"},{"doy":51.78,"v":15.4,"s":"int"},{"doy":51.81,"v":18.3,"s":"int"},{"doy":51.86,"v":20.5,"s":"int"},{"doy":51.9,"v":11.7,"s":"int"},{"doy":51.99,"v":8.1,"s":"int"},{"doy":52.04,"v":2.9,"s":"int"},{"doy":52.09,"v":2.5,"s":"int"},{"doy":52.13,"v":2.2,"s":"int"},{"doy":52.17,"v":2.6,"s":"int"},{"doy":52.21,"v":2.9,"s":"int"},{"doy":52.27,"v":2.7,"s":"int"},{"doy":52.33,"v":2.9,"s":"int"},{"doy":52.39,"v":3.1,"s":"int"},{"doy":52.44,"v":3.3,"s":"int"},{"doy":52.5,"v":3.5,"s":"int"},{"doy":52.56,"v":3.7,"s":"int"},{"doy":52.62,"v":4.0,"s":"int"},{"doy":52.67,"v":4.4,"s":"int"},{"doy":52.73,"v":12.1,"s":"int"},{"doy":52.76,"v":8.8,"s":"int"},{"doy":52.82,"v":6.0,"s":"int"},{"doy":52.88,"v":4.4,"s":"int"},{"doy":52.94,"v":5.2,"s":"int"},{"doy":52.99,"v":5.9,"s":"int"},{"doy":53.05,"v":5.5,"s":"int"},{"doy":53.11,"v":5.1,"s":"int"},{"doy":53.16,"v":4.8,"s":"int"},{"doy":53.22,"v":4.4,"s":"int"},{"doy":53.28,"v":6.0,"s":"int"},{"doy":53.33,"v":7.3,"s":"int"},{"doy":53.39,"v":6.0,"s":"int"},{"doy":53.44,"v":5.1,"s":"int"},{"doy":53.5,"v":5.8,"s":"int"},{"doy":53.56,"v":6.6,"s":"int"},{"doy":53.62,"v":8.5,"s":"int"},{"doy":53.67,"v":10.3,"s":"int"},{"doy":53.72,"v":8.5,"s":"int"},{"doy":53.78,"v":7.3,"s":"int"},
{"doy":55.14,"v":2.2,"s":"int"},{"doy":55.2,"v":2.0,"s":"int"},{"doy":55.25,"v":2.1,"s":"int"},{"doy":55.31,"v":2.2,"s":"int"},{"doy":55.37,"v":2.0,"s":"int"},{"doy":55.43,"v":1.9,"s":"int"},{"doy":55.48,"v":1.8,"s":"int"},{"doy":55.54,"v":1.8,"s":"int"},{"doy":55.6,"v":2.2,"s":"int"},{"doy":55.66,"v":2.5,"s":"int"},{"doy":55.73,"v":2.9,"s":"int"},{"doy":55.78,"v":4.0,"s":"int"},{"doy":55.84,"v":5.1,"s":"int"},{"doy":55.9,"v":6.2,"s":"int"},{"doy":55.94,"v":5.6,"s":"int"},{"doy":55.98,"v":5.1,"s":"int"},{"doy":56.04,"v":4.4,"s":"int"},{"doy":56.1,"v":3.7,"s":"int"},{"doy":56.16,"v":3.4,"s":"int"},{"doy":56.21,"v":3.1,"s":"int"},{"doy":56.27,"v":2.9,"s":"int"},{"doy":56.33,"v":2.6,"s":"int"},{"doy":56.38,"v":2.4,"s":"int"},{"doy":56.44,"v":2.2,"s":"int"},{"doy":56.5,"v":1.9,"s":"int"},{"doy":56.55,"v":1.7,"s":"int"},{"doy":56.61,"v":1.5,"s":"int"},{"doy":56.67,"v":1.3,"s":"int"},{"doy":56.72,"v":1.2,"s":"int"},{"doy":56.78,"v":1.1,"s":"int"},{"doy":56.84,"v":1.4,"s":"int"},{"doy":56.89,"v":1.6,"s":"int"},{"doy":56.95,"v":1.8,"s":"int"},{"doy":57.01,"v":2.0,"s":"int"},{"doy":57.06,"v":2.1,"s":"int"},{"doy":57.12,"v":2.2,"s":"int"},{"doy":57.18,"v":2.3,"s":"int"},{"doy":57.23,"v":2.5,"s":"int"},{"doy":57.29,"v":2.6,"s":"int"},{"doy":57.33,"v":3.5,"s":"int"},{"doy":57.37,"v":4.4,"s":"int"},{"doy":57.42,"v":3.6,"s":"int"},{"doy":57.47,"v":5.5,"s":"int"},{"doy":57.52,"v":7.3,"s":"int"},{"doy":57.55,"v":5.8,"s":"int"},{"doy":57.59,"v":4.8,"s":"int"},{"doy":57.63,"v":4.4,"s":"int"},{"doy":57.7,"v":4.0,"s":"int"},{"doy":57.77,"v":3.7,"s":"int"},{"doy":57.84,"v":3.3,"s":"int"},{"doy":57.91,"v":2.9,"s":"int"},{"doy":57.96,"v":4.4,"s":"int"},{"doy":58.03,"v":5.5,"s":"int"},{"doy":58.08,"v":6.2,"s":"int"},{"doy":58.13,"v":6.6,"s":"int"},{"doy":58.2,"v":6.3,"s":"int"},{"doy":58.25,"v":6.1,"s":"int"},{"doy":58.3,"v":5.9,"s":"int"},{"doy":58.37,"v":5.2,"s":"int"},{"doy":58.44,"v":4.4,"s":"int"},{"doy":58.5,"v":4.0,"s":"int"},{"doy":58.56,"v":3.7,"s":"int"},{"doy":58.63,"v":5.5,"s":"int"},{"doy":58.7,"v":7.3,"s":"int"},{"doy":58.76,"v":8.0,"s":"int"},{"doy":58.82,"v":8.8,"s":"int"},{"doy":58.86,"v":7.7,"s":"int"},{"doy":58.9,"v":6.6,"s":"int"},{"doy":58.93,"v":4.4,"s":"int"},{"doy":58.96,"v":2.2,"s":"int"},{"doy":59.03,"v":5.5,"s":"int"},{"doy":59.1,"v":8.8,"s":"int"},{"doy":59.17,"v":8.6,"s":"int"},{"doy":59.24,"v":8.4,"s":"int"},{"doy":59.3,"v":9.3,"s":"int"},{"doy":59.35,"v":10.3,"s":"int"},{"doy":59.39,"v":13.9,"s":"int"},{"doy":59.42,"v":11.5,"s":"int"},{"doy":59.47,"v":9.6,"s":"int"},{"doy":59.54,"v":9.2,"s":"int"},{"doy":59.61,"v":8.8,"s":"int"},{"doy":59.66,"v":8.0,"s":"int"},{"doy":59.72,"v":7.3,"s":"int"},{"doy":59.8,"v":6.6,"s":"int"},{"doy":59.89,"v":5.9,"s":"int"},{"doy":59.97,"v":7.0,"s":"int"},{"doy":60.06,"v":8.1,"s":"int"},{"doy":60.12,"v":8.4,"s":"int"},{"doy":60.18,"v":8.8,"s":"int"},{"doy":60.22,"v":10.3,"s":"int"},{"doy":60.26,"v":11.7,"s":"int"},{"doy":60.29,"v":14.5,"s":"int"},{"doy":60.32,"v":16.8,"s":"int"},{"doy":60.34,"v":13.9,"s":"int"},{"doy":60.37,"v":10.5,"s":"int"},{"doy":60.4,"v":7.3,"s":"int"},{"doy":60.46,"v":5.0,"s":"int"},{"doy":60.52,"v":2.9,"s":"int"},{"doy":60.57,"v":3.6,"s":"int"},{"doy":60.63,"v":4.4,"s":"int"},{"doy":60.68,"v":3.3,"s":"int"},{"doy":60.74,"v":2.2,"s":"int"},{"doy":61.59,"v":10.3,"s":"int"},{"doy":61.62,"v":9.0,"s":"int"},{"doy":61.65,"v":8.0,"s":"int"},{"doy":61.68,"v":7.3,"s":"int"},{"doy":61.72,"v":7.6,"s":"int"},{"doy":61.77,"v":8.1,"s":"int"},{"doy":61.8,"v":9.3,"s":"int"},{"doy":61.82,"v":10.3,"s":"int"},{"doy":62.05,"v":5.1,"s":"int"},{"doy":62.1,"v":4.0,"s":"int"},{"doy":62.16,"v":3.4,"s":"int"},{"doy":62.22,"v":2.9,"s":"int"},{"doy":62.3,"v":2.8,"s":"int"},{"doy":62.37,"v":2.9,"s":"int"},{"doy":62.45,"v":2.9,"s":"int"},{"doy":62.52,"v":3.5,"s":"int"},{"doy":62.58,"v":4.5,"s":"int"},{"doy":62.62,"v":5.1,"s":"int"},{"doy":62.68,"v":2.5,"s":"int"},{"doy":62.73,"v":1.5,"s":"int"},{"doy":62.8,"v":1.6,"s":"int"},{"doy":62.88,"v":1.7,"s":"int"},{"doy":62.95,"v":1.8,"s":"int"},{"doy":63.03,"v":2.0,"s":"int"},{"doy":63.1,"v":2.1,"s":"int"},{"doy":63.18,"v":2.2,"s":"int"},{"doy":63.25,"v":2.4,"s":"int"},{"doy":63.33,"v":2.5,"s":"int"},{"doy":63.41,"v":2.6,"s":"int"},{"doy":63.48,"v":2.2,"s":"int"},{"doy":63.56,"v":1.9,"s":"int"},{"doy":63.63,"v":1.8,"s":"int"},{"doy":63.7,"v":2.2,"s":"int"},{"doy":63.75,"v":2.6,"s":"int"},{"doy":63.8,"v":2.9,"s":"int"},{"doy":63.85,"v":5.0,"s":"int"},{"doy":63.89,"v":7.3,"s":"int"},{"doy":63.92,"v":9.0,"s":"int"},{"doy":63.95,"v":10.3,"s":"int"},{"doy":63.99,"v":7.5,"s":"int"},{"doy":64.03,"v":5.1,"s":"int"},{"doy":64.08,"v":4.7,"s":"int"},{"doy":64.14,"v":4.4,"s":"int"},{"doy":64.2,"v":4.4,"s":"int"},{"doy":64.26,"v":4.4,"s":"int"},{"doy":64.33,"v":7.0,"s":"int"},{"doy":64.37,"v":9.5,"s":"int"},{"doy":64.4,"v":11.0,"s":"int"},{"doy":64.43,"v":9.0,"s":"int"},{"doy":64.46,"v":7.3,"s":"int"},{"doy":64.5,"v":6.5,"s":"int"},{"doy":64.54,"v":5.9,"s":"int"},{"doy":64.57,"v":3.0,"s":"int"},{"doy":64.6,"v":1.1,"s":"int"},{"doy":64.64,"v":1.0,"s":"int"},{"doy":64.68,"v":1.1,"s":"int"},{"doy":64.88,"v":11.7,"s":"int"},{"doy":64.91,"v":11.7,"s":"int"},
{"doy":45.82,"v":5.0,"s":"1.6m"},{"doy":46.83,"v":13.7,"s":"1.6m"},{"doy":47.15,"v":13.7,"s":"1.6m"},{"doy":47.83,"v":9.2,"s":"1.6m"},{"doy":48.83,"v":6.0,"s":"1.6m"},{"doy":52.83,"v":7.3,"s":"1.6m"},{"doy":55.03,"v":7.3,"s":"1.6m"},{"doy":58.1,"v":8.9,"s":"1.6m"},{"doy":59.82,"v":6.5,"s":"1.6m"},{"doy":64.87,"v":10.5,"s":"1.6m"},
{"doy":45.82,"v":26.0,"s":"ssm"},{"doy":46.83,"v":26.0,"s":"ssm"},{"doy":47.15,"v":19.8,"s":"ssm"},{"doy":47.83,"v":41.4,"s":"ssm"},{"doy":48.83,"v":4.0,"s":"ssm"},{"doy":52.83,"v":8.9,"s":"ssm"},{"doy":55.03,"v":7.0,"s":"ssm"},{"doy":58.1,"v":5.0,"s":"ssm"},{"doy":59.82,"v":3.8,"s":"ssm"},{"doy":64.87,"v":10.0,"s":"ssm"}],
 "resid":[
{"doy":44.29,"v":0,"s":"EC-derived"},{"doy":44.33,"v":0.5,"s":"EC-derived"},{"doy":44.38,"v":0.7,"s":"EC-derived"},{"doy":44.42,"v":-0.5,"s":"EC-derived"},{"doy":44.46,"v":-0.9,"s":"EC-derived"},{"doy":44.5,"v":0.8,"s":"EC-derived"},{"doy":44.54,"v":1.8,"s":"EC-derived"},{"doy":44.58,"v":0.3,"s":"EC-derived"},{"doy":44.62,"v":-0.3,"s":"EC-derived"},{"doy":44.65,"v":0.2,"s":"EC-derived"},{"doy":44.68,"v":0.7,"s":"EC-derived"},{"doy":44.72,"v":-0.8,"s":"EC-derived"},{"doy":44.77,"v":-1.9,"s":"EC-derived"},{"doy":44.79,"v":6.1,"s":"EC-derived"},{"doy":44.85,"v":6.1,"s":"EC-derived"},{"doy":44.88,"v":11.4,"s":"EC-derived"},{"doy":44.9,"v":12.0,"s":"EC-derived"},{"doy":44.91,"v":13.0,"s":"EC-derived"},{"doy":44.93,"v":10.9,"s":"EC-derived"},{"doy":44.96,"v":8.2,"s":"EC-derived"},{"doy":44.99,"v":2.4,"s":"EC-derived"},{"doy":45.02,"v":2.0,"s":"EC-derived"},{"doy":45.05,"v":2.9,"s":"EC-derived"},{"doy":45.1,"v":2.2,"s":"EC-derived"},{"doy":45.14,"v":1.8,"s":"EC-derived"},{"doy":45.17,"v":0.5,"s":"EC-derived"},{"doy":45.19,"v":-0.9,"s":"EC-derived"},{"doy":45.22,"v":-0.2,"s":"EC-derived"},{"doy":45.25,"v":0.7,"s":"EC-derived"},{"doy":45.3,"v":0.1,"s":"EC-derived"},{"doy":45.34,"v":-0.3,"s":"EC-derived"},{"doy":45.38,"v":0.5,"s":"EC-derived"},{"doy":45.42,"v":0.2,"s":"EC-derived"},{"doy":45.48,"v":3.9,"s":"EC-derived"},{"doy":45.52,"v":0.4,"s":"EC-derived"},{"doy":45.56,"v":-0.9,"s":"EC-derived"},{"doy":45.62,"v":0.2,"s":"EC-derived"},{"doy":45.65,"v":9.8,"s":"EC-derived"},{"doy":45.69,"v":5.0,"s":"EC-derived"},{"doy":45.74,"v":7.2,"s":"EC-derived"},{"doy":45.76,"v":-0.9,"s":"EC-derived"},{"doy":45.79,"v":1.2,"s":"EC-derived"},{"doy":45.82,"v":2.4,"s":"EC-derived"},{"doy":45.88,"v":4.5,"s":"EC-derived"},{"doy":45.91,"v":1.0,"s":"EC-derived"},{"doy":45.94,"v":-1.9,"s":"EC-derived"},{"doy":45.99,"v":-3.5,"s":"EC-derived"},{"doy":46.04,"v":-4.0,"s":"EC-derived"},{"doy":46.08,"v":-4.6,"s":"EC-derived"},{"doy":46.13,"v":-1.5,"s":"EC-derived"},{"doy":46.17,"v":0.2,"s":"EC-derived"},{"doy":46.21,"v":1.2,"s":"EC-derived"},{"doy":46.25,"v":2.4,"s":"EC-derived"},{"doy":46.3,"v":0.8,"s":"EC-derived"},{"doy":46.34,"v":0.2,"s":"EC-derived"},{"doy":46.38,"v":-1.5,"s":"EC-derived"},{"doy":46.42,"v":-3.0,"s":"EC-derived"},{"doy":46.48,"v":0.2,"s":"EC-derived"},{"doy":46.54,"v":3.4,"s":"EC-derived"},{"doy":46.58,"v":2.8,"s":"EC-derived"},{"doy":46.62,"v":2.4,"s":"EC-derived"},{"doy":46.66,"v":3.0,"s":"EC-derived"},{"doy":46.71,"v":3.9,"s":"EC-derived"},{"doy":46.74,"v":1.5,"s":"EC-derived"},{"doy":46.77,"v":-0.9,"s":"EC-derived"},{"doy":46.8,"v":-2.5,"s":"EC-derived"},{"doy":46.83,"v":-4.1,"s":"EC-derived"},{"doy":46.87,"v":-3.0,"s":"EC-derived"},{"doy":46.91,"v":-1.9,"s":"EC-derived"},{"doy":46.97,"v":-3.5,"s":"EC-derived"},{"doy":47.26,"v":-13.2,"s":"EC-derived"},{"doy":47.28,"v":-12.0,"s":"EC-derived"},{"doy":47.38,"v":-7.2,"s":"EC-derived"},{"doy":47.4,"v":-6.7,"s":"EC-derived"},{"doy":47.45,"v":-5.0,"s":"EC-derived"},{"doy":47.49,"v":-4.1,"s":"EC-derived"},{"doy":47.52,"v":-2.5,"s":"EC-derived"},{"doy":47.55,"v":-1.4,"s":"EC-derived"},{"doy":47.6,"v":-0.8,"s":"EC-derived"},{"doy":47.63,"v":-0.3,"s":"EC-derived"},{"doy":47.68,"v":0.0,"s":"EC-derived"},{"doy":47.72,"v":0.2,"s":"EC-derived"},{"doy":47.75,"v":5.0,"s":"EC-derived"},{"doy":47.78,"v":6.5,"s":"EC-derived"},{"doy":47.81,"v":7.2,"s":"EC-derived"},{"doy":47.84,"v":4.0,"s":"EC-derived"},{"doy":47.86,"v":2.4,"s":"EC-derived"},{"doy":47.9,"v":6.0,"s":"EC-derived"},{"doy":47.92,"v":7.7,"s":"EC-derived"},{"doy":47.95,"v":9.0,"s":"EC-derived"},{"doy":47.98,"v":10.9,"s":"EC-derived"},{"doy":48.03,"v":13.6,"s":"EC-derived"},{"doy":48.06,"v":12.0,"s":"EC-derived"},{"doy":48.09,"v":9.8,"s":"EC-derived"},{"doy":48.12,"v":12.0,"s":"EC-derived"},{"doy":48.15,"v":13.0,"s":"EC-derived"},{"doy":48.18,"v":18.0,"s":"EC-derived"},{"doy":48.2,"v":21.1,"s":"EC-derived"},{"doy":48.23,"v":18.4,"s":"EC-derived"},{"doy":48.26,"v":16.5,"s":"EC-derived"},{"doy":48.29,"v":15.2,"s":"EC-derived"},{"doy":48.32,"v":13.5,"s":"EC-derived"},{"doy":48.35,"v":12.0,"s":"EC-derived"},{"doy":48.38,"v":10.0,"s":"EC-derived"},{"doy":48.41,"v":8.8,"s":"EC-derived"},{"doy":48.44,"v":5.0,"s":"EC-derived"},{"doy":48.46,"v":2.9,"s":"EC-derived"},{"doy":48.49,"v":12.0,"s":"EC-derived"},{"doy":48.52,"v":17.3,"s":"EC-derived"},{"doy":48.55,"v":15.5,"s":"EC-derived"},{"doy":48.58,"v":14.1,"s":"EC-derived"},{"doy":48.61,"v":5.5,"s":"EC-derived"},{"doy":48.64,"v":0.2,"s":"EC-derived"},{"doy":48.72,"v":0.8,"s":"EC-derived"},{"doy":48.81,"v":3.9,"s":"EC-derived"},{"doy":48.86,"v":3.0,"s":"EC-derived"},{"doy":48.92,"v":10.9,"s":"EC-derived"},{"doy":48.95,"v":9.0,"s":"EC-derived"},{"doy":48.98,"v":8.2,"s":"EC-derived"},{"doy":49.01,"v":6.5,"s":"EC-derived"},{"doy":49.04,"v":5.0,"s":"EC-derived"},{"doy":49.08,"v":8.0,"s":"EC-derived"},{"doy":49.12,"v":12.0,"s":"EC-derived"},{"doy":49.15,"v":9.0,"s":"EC-derived"},{"doy":49.18,"v":4.5,"s":"EC-derived"},{"doy":49.21,"v":0.5,"s":"EC-derived"},{"doy":49.24,"v":-6.2,"s":"EC-derived"},{"doy":49.27,"v":3.0,"s":"EC-derived"},{"doy":49.29,"v":10.9,"s":"EC-derived"},{"doy":49.33,"v":1.8,"s":"EC-derived"},{"doy":49.37,"v":1.0,"s":"EC-derived"},{"doy":49.41,"v":0.2,"s":"EC-derived"},{"doy":49.45,"v":-1.0,"s":"EC-derived"},{"doy":49.5,"v":-1.9,"s":"EC-derived"},{"doy":49.54,"v":3.0,"s":"EC-derived"},{"doy":49.59,"v":5.5,"s":"EC-derived"},{"doy":49.73,"v":0.2,"s":"EC-derived"},{"doy":49.75,"v":3.5,"s":"EC-derived"},{"doy":49.77,"v":12.0,"s":"EC-derived"},{"doy":49.79,"v":18.4,"s":"EC-derived"},{"doy":49.81,"v":15.0,"s":"EC-derived"},{"doy":49.84,"v":11.4,"s":"EC-derived"},{"doy":50.07,"v":-4.1,"s":"EC-derived"},{"doy":50.12,"v":-3.0,"s":"EC-derived"},{"doy":50.15,"v":-3.5,"s":"EC-derived"},{"doy":50.19,"v":-1.9,"s":"EC-derived"},{"doy":50.22,"v":-4.0,"s":"EC-derived"},{"doy":50.26,"v":-5.0,"s":"EC-derived"},{"doy":50.3,"v":-5.7,"s":"EC-derived"},{"doy":50.35,"v":-3.0,"s":"EC-derived"},{"doy":50.42,"v":-1.9,"s":"EC-derived"},{"doy":50.5,"v":-0.5,"s":"EC-derived"},{"doy":50.59,"v":0,"s":"EC-derived"},{"doy":50.61,"v":-0.9,"s":"EC-derived"},{"doy":50.66,"v":-0.5,"s":"EC-derived"},{"doy":50.72,"v":-1.0,"s":"EC-derived"},{"doy":50.78,"v":-1.4,"s":"EC-derived"},{"doy":50.84,"v":0.5,"s":"EC-derived"},{"doy":50.9,"v":2.4,"s":"EC-derived"},{"doy":50.95,"v":0.5,"s":"EC-derived"},{"doy":51.01,"v":-0.9,"s":"EC-derived"},{"doy":51.05,"v":1.0,"s":"EC-derived"},{"doy":51.1,"v":4.5,"s":"EC-derived"},{"doy":51.14,"v":3.0,"s":"EC-derived"},{"doy":51.18,"v":5.5,"s":"EC-derived"},{"doy":51.21,"v":9.3,"s":"EC-derived"},{"doy":51.24,"v":12.0,"s":"EC-derived"},{"doy":51.27,"v":14.1,"s":"EC-derived"},{"doy":51.3,"v":6.0,"s":"EC-derived"},{"doy":51.33,"v":1.8,"s":"EC-derived"},{"doy":51.37,"v":0.5,"s":"EC-derived"},{"doy":51.41,"v":3.4,"s":"EC-derived"},{"doy":51.44,"v":-1.5,"s":"EC-derived"},{"doy":51.47,"v":-4.1,"s":"EC-derived"},{"doy":51.5,"v":-8.4,"s":"EC-derived"},{"doy":51.52,"v":-6.0,"s":"EC-derived"},{"doy":51.55,"v":-3.0,"s":"EC-derived"},{"doy":51.6,"v":-1.0,"s":"EC-derived"},{"doy":51.64,"v":-1.4,"s":"EC-derived"},{"doy":51.68,"v":0.2,"s":"EC-derived"},{"doy":51.73,"v":-1.9,"s":"EC-derived"},{"doy":51.77,"v":0.5,"s":"EC-derived"},{"doy":51.79,"v":2.4,"s":"EC-derived"},{"doy":51.82,"v":6.6,"s":"EC-derived"},{"doy":51.84,"v":8.0,"s":"EC-derived"},{"doy":51.86,"v":7.7,"s":"EC-derived"},{"doy":51.9,"v":2.4,"s":"EC-derived"},{"doy":51.93,"v":-3.0,"s":"EC-derived"},{"doy":51.98,"v":-1.5,"s":"EC-derived"},{"doy":52.04,"v":-0.9,"s":"EC-derived"},{"doy":52.1,"v":-0.3,"s":"EC-derived"},{"doy":52.15,"v":-1.4,"s":"EC-derived"},{"doy":52.21,"v":-0.8,"s":"EC-derived"},{"doy":52.27,"v":-1.9,"s":"EC-derived"},{"doy":52.33,"v":-1.0,"s":"EC-derived"},{"doy":52.38,"v":-3.0,"s":"EC-derived"},{"doy":52.44,"v":-2.0,"s":"EC-derived"},{"doy":52.5,"v":-2.5,"s":"EC-derived"},{"doy":52.55,"v":-1.5,"s":"EC-derived"},{"doy":52.61,"v":-3.5,"s":"EC-derived"},{"doy":52.65,"v":-2.5,"s":"EC-derived"},{"doy":52.69,"v":-0.9,"s":"EC-derived"},{"doy":52.74,"v":0.3,"s":"EC-derived"},{"doy":52.78,"v":0.7,"s":"EC-derived"},{"doy":52.86,"v":-3.0,"s":"EC-derived"},{"doy":52.9,"v":-4.5,"s":"EC-derived"},{"doy":52.93,"v":-5.1,"s":"EC-derived"},{"doy":52.97,"v":-4.5,"s":"EC-derived"},{"doy":53.0,"v":-4.8,"s":"EC-derived"},{"doy":53.04,"v":-4.6,"s":"EC-derived"},{"doy":53.09,"v":-6.5,"s":"EC-derived"},{"doy":53.13,"v":-8.4,"s":"EC-derived"},{"doy":53.16,"v":-9.5,"s":"EC-derived"},{"doy":53.19,"v":-10.5,"s":"EC-derived"},{"doy":53.23,"v":-9.5,"s":"EC-derived"},{"doy":53.28,"v":-8.4,"s":"EC-derived"},{"doy":53.32,"v":-6.5,"s":"EC-derived"},{"doy":53.36,"v":-5.1,"s":"EC-derived"},{"doy":53.4,"v":-4.0,"s":"EC-derived"},{"doy":53.45,"v":-3.0,"s":"EC-derived"},{"doy":53.5,"v":-2.0,"s":"EC-derived"},{"doy":53.54,"v":-0.9,"s":"EC-derived"},{"doy":53.58,"v":0.5,"s":"EC-derived"},{"doy":53.62,"v":1.8,"s":"EC-derived"},{"doy":53.65,"v":2.5,"s":"EC-derived"},{"doy":53.68,"v":3.4,"s":"EC-derived"},{"doy":53.71,"v":1.0,"s":"EC-derived"},{"doy":53.74,"v":-1.9,"s":"EC-derived"},{"doy":53.78,"v":-3.0,"s":"EC-derived"},{"doy":53.82,"v":-4.1,"s":"EC-derived"},
{"doy":55.14,"v":-0.9,"s":"EC-derived"},{"doy":55.2,"v":-0.5,"s":"EC-derived"},{"doy":55.25,"v":-0.7,"s":"EC-derived"},{"doy":55.31,"v":-0.3,"s":"EC-derived"},{"doy":55.37,"v":-0.1,"s":"EC-derived"},{"doy":55.42,"v":0.3,"s":"EC-derived"},{"doy":55.48,"v":0.2,"s":"EC-derived"},{"doy":55.54,"v":0.0,"s":"EC-derived"},{"doy":55.6,"v":-0.2,"s":"EC-derived"},{"doy":55.65,"v":-0.3,"s":"EC-derived"},{"doy":55.71,"v":0.4,"s":"EC-derived"},{"doy":55.75,"v":0.9,"s":"EC-derived"},{"doy":55.79,"v":1.3,"s":"EC-derived"},{"doy":55.84,"v":2.2,"s":"EC-derived"},{"doy":55.9,"v":3.4,"s":"EC-derived"},{"doy":55.95,"v":2.5,"s":"EC-derived"},{"doy":56.0,"v":1.8,"s":"EC-derived"},{"doy":56.05,"v":1.2,"s":"EC-derived"},{"doy":56.1,"v":0.9,"s":"EC-derived"},{"doy":56.16,"v":0.7,"s":"EC-derived"},{"doy":56.22,"v":0.8,"s":"EC-derived"},{"doy":56.27,"v":0.6,"s":"EC-derived"},{"doy":56.33,"v":0.7,"s":"EC-derived"},{"doy":56.39,"v":0.3,"s":"EC-derived"},{"doy":56.44,"v":0.0,"s":"EC-derived"},{"doy":56.5,"v":-0.3,"s":"EC-derived"},{"doy":56.56,"v":-0.2,"s":"EC-derived"},{"doy":56.61,"v":-0.4,"s":"EC-derived"},{"doy":56.67,"v":-0.3,"s":"EC-derived"},{"doy":56.73,"v":-0.5,"s":"EC-derived"},{"doy":56.78,"v":-0.3,"s":"EC-derived"},{"doy":56.84,"v":-0.3,"s":"EC-derived"},{"doy":56.9,"v":-0.6,"s":"EC-derived"},{"doy":56.95,"v":-0.7,"s":"EC-derived"},{"doy":57.01,"v":-0.9,"s":"EC-derived"},{"doy":57.07,"v":-0.5,"s":"EC-derived"},{"doy":57.12,"v":-0.3,"s":"EC-derived"},{"doy":57.18,"v":-0.3,"s":"EC-derived"},{"doy":57.24,"v":0.0,"s":"EC-derived"},{"doy":57.29,"v":0.2,"s":"EC-derived"},{"doy":57.35,"v":0.2,"s":"EC-derived"},{"doy":57.41,"v":0.6,"s":"EC-derived"},{"doy":57.46,"v":1.0,"s":"EC-derived"},{"doy":57.49,"v":1.3,"s":"EC-derived"},{"doy":57.53,"v":0.5,"s":"EC-derived"},{"doy":57.58,"v":0.0,"s":"EC-derived"},{"doy":57.63,"v":-0.3,"s":"EC-derived"},{"doy":57.69,"v":-0.6,"s":"EC-derived"},{"doy":57.74,"v":-0.9,"s":"EC-derived"},{"doy":57.8,"v":-1.2,"s":"EC-derived"},{"doy":57.85,"v":-1.4,"s":"EC-derived"},{"doy":57.91,"v":-0.8,"s":"EC-derived"},{"doy":57.96,"v":-0.3,"s":"EC-derived"},{"doy":58.0,"v":0.5,"s":"EC-derived"},{"doy":58.05,"v":0.7,"s":"EC-derived"},
{"doy":58.42,"v":0.7,"s":"EC-derived"},{"doy":58.47,"v":1.8,"s":"EC-derived"},{"doy":58.51,"v":1.2,"s":"EC-derived"},{"doy":58.56,"v":-0.3,"s":"EC-derived"},{"doy":58.59,"v":1.0,"s":"EC-derived"},{"doy":58.62,"v":2.4,"s":"EC-derived"},{"doy":58.68,"v":2.0,"s":"EC-derived"},{"doy":58.73,"v":1.8,"s":"EC-derived"},{"doy":58.78,"v":2.5,"s":"EC-derived"},{"doy":58.82,"v":3.4,"s":"EC-derived"},{"doy":58.86,"v":1.8,"s":"EC-derived"},{"doy":58.9,"v":0.2,"s":"EC-derived"},{"doy":58.96,"v":-3.0,"s":"EC-derived"},{"doy":59.0,"v":0.5,"s":"EC-derived"},{"doy":59.04,"v":2.4,"s":"EC-derived"},{"doy":59.09,"v":1.8,"s":"EC-derived"},{"doy":59.15,"v":1.3,"s":"EC-derived"},{"doy":59.21,"v":1.5,"s":"EC-derived"},{"doy":59.27,"v":1.8,"s":"EC-derived"},{"doy":59.31,"v":2.5,"s":"EC-derived"},{"doy":59.35,"v":3.4,"s":"EC-derived"},{"doy":59.39,"v":6.6,"s":"EC-derived"},{"doy":59.41,"v":5.0,"s":"EC-derived"},{"doy":59.44,"v":4.5,"s":"EC-derived"},{"doy":59.48,"v":2.5,"s":"EC-derived"},{"doy":59.53,"v":1.5,"s":"EC-derived"},{"doy":59.57,"v":0.8,"s":"EC-derived"},{"doy":59.61,"v":0.2,"s":"EC-derived"},{"doy":59.65,"v":1.5,"s":"EC-derived"},{"doy":59.7,"v":3.4,"s":"EC-derived"},{"doy":59.74,"v":2.0,"s":"EC-derived"},{"doy":59.79,"v":1.0,"s":"EC-derived"},{"doy":59.84,"v":0.7,"s":"EC-derived"},{"doy":59.9,"v":0.5,"s":"EC-derived"},{"doy":59.95,"v":0.2,"s":"EC-derived"},{"doy":60.0,"v":1.0,"s":"EC-derived"},{"doy":60.06,"v":2.4,"s":"EC-derived"},{"doy":60.1,"v":3.0,"s":"EC-derived"},{"doy":60.15,"v":3.4,"s":"EC-derived"},{"doy":60.19,"v":4.5,"s":"EC-derived"},{"doy":60.23,"v":5.5,"s":"EC-derived"},{"doy":60.26,"v":6.5,"s":"EC-derived"},{"doy":60.29,"v":8.2,"s":"EC-derived"},{"doy":60.33,"v":10.4,"s":"EC-derived"},{"doy":60.35,"v":8.5,"s":"EC-derived"},{"doy":60.37,"v":6.6,"s":"EC-derived"},{"doy":60.4,"v":3.4,"s":"EC-derived"},{"doy":60.43,"v":1.5,"s":"EC-derived"},{"doy":60.46,"v":0.2,"s":"EC-derived"},{"doy":60.51,"v":0.0,"s":"EC-derived"},{"doy":60.57,"v":-0.3,"s":"EC-derived"},{"doy":60.62,"v":-1.0,"s":"EC-derived"},{"doy":60.68,"v":-1.9,"s":"EC-derived"},{"doy":60.74,"v":-0.9,"s":"EC-derived"},
{"doy":61.59,"v":1.8,"s":"EC-derived"},{"doy":61.62,"v":5.5,"s":"EC-derived"},{"doy":61.66,"v":4.5,"s":"EC-derived"},{"doy":61.71,"v":3.4,"s":"EC-derived"},{"doy":61.75,"v":3.8,"s":"EC-derived"},{"doy":61.79,"v":4.5,"s":"EC-derived"},{"doy":61.82,"v":5.0,"s":"EC-derived"},{"doy":61.85,"v":5.5,"s":"EC-derived"},{"doy":61.99,"v":0.7,"s":"EC-derived"},{"doy":62.02,"v":0.0,"s":"EC-derived"},{"doy":62.05,"v":2.4,"s":"EC-derived"},{"doy":62.27,"v":0.7,"s":"EC-derived"},{"doy":62.33,"v":0.0,"s":"EC-derived"},{"doy":62.39,"v":-0.9,"s":"EC-derived"},{"doy":62.44,"v":-0.3,"s":"EC-derived"},{"doy":62.5,"v":0.2,"s":"EC-derived"},{"doy":62.55,"v":1.0,"s":"EC-derived"},{"doy":62.61,"v":2.4,"s":"EC-derived"},{"doy":62.64,"v":1.0,"s":"EC-derived"},{"doy":62.68,"v":-0.3,"s":"EC-derived"},{"doy":62.73,"v":-0.9,"s":"EC-derived"},{"doy":62.78,"v":-0.5,"s":"EC-derived"},{"doy":62.84,"v":-0.3,"s":"EC-derived"},{"doy":62.9,"v":-0.3,"s":"EC-derived"},{"doy":62.96,"v":-0.6,"s":"EC-derived"},{"doy":63.01,"v":-0.8,"s":"EC-derived"},{"doy":63.07,"v":-0.9,"s":"EC-derived"},{"doy":63.13,"v":-1.0,"s":"EC-derived"},{"doy":63.19,"v":-1.2,"s":"EC-derived"},{"doy":63.24,"v":-1.4,"s":"EC-derived"},{"doy":63.3,"v":-1.1,"s":"EC-derived"},{"doy":63.36,"v":-0.9,"s":"EC-derived"},{"doy":63.41,"v":-0.9,"s":"EC-derived"},{"doy":63.72,"v":3.4,"s":"EC-derived"},{"doy":63.76,"v":1.0,"s":"EC-derived"},{"doy":63.8,"v":-0.3,"s":"EC-derived"},{"doy":63.85,"v":1.5,"s":"EC-derived"},{"doy":63.89,"v":2.9,"s":"EC-derived"},{"doy":63.93,"v":2.6,"s":"EC-derived"},{"doy":63.97,"v":2.4,"s":"EC-derived"},{"doy":64.01,"v":1.0,"s":"EC-derived"},{"doy":64.06,"v":0.2,"s":"EC-derived"},{"doy":64.1,"v":-1.0,"s":"EC-derived"},{"doy":64.13,"v":-2.0,"s":"EC-derived"},{"doy":64.17,"v":-1.9,"s":"EC-derived"},{"doy":64.21,"v":-2.5,"s":"EC-derived"},{"doy":64.26,"v":-3.0,"s":"EC-derived"},{"doy":64.3,"v":-3.2,"s":"EC-derived"},{"doy":64.34,"v":-3.5,"s":"EC-derived"},{"doy":64.43,"v":-6.2,"s":"EC-derived"},{"doy":64.46,"v":-8.0,"s":"EC-derived"},{"doy":64.47,"v":-15.3,"s":"EC-derived"},{"doy":64.48,"v":-8.9,"s":"EC-derived"},{"doy":64.49,"v":-14.0,"s":"EC-derived"},{"doy":64.5,"v":-11.6,"s":"EC-derived"},{"doy":64.52,"v":-10.0,"s":"EC-derived"},{"doy":64.54,"v":-8.4,"s":"EC-derived"},{"doy":64.57,"v":-1.9,"s":"EC-derived"},{"doy":64.61,"v":-2.5,"s":"EC-derived"},{"doy":64.66,"v":-3.0,"s":"EC-derived"},{"doy":64.7,"v":-3.0,"s":"EC-derived"},{"doy":64.74,"v":-3.0,"s":"EC-derived"},
{"doy":45.82,"v":21.1,"s":"SSM-derived"},{"doy":46.83,"v":12.2,"s":"SSM-derived"},{"doy":47.15,"v":6.1,"s":"SSM-derived"},{"doy":47.83,"v":32.3,"s":"SSM-derived"},{"doy":48.83,"v":-2.1,"s":"SSM-derived"},{"doy":52.83,"v":1.6,"s":"SSM-derived"},{"doy":55.03,"v":-0.4,"s":"SSM-derived"},{"doy":58.1,"v":-3.8,"s":"SSM-derived"},{"doy":59.82,"v":-3.0,"s":"SSM-derived"},{"doy":64.87,"v":-0.5,"s":"SSM-derived"}]
},
"vconcat":[
{
 "width":1238,"height":204,
 "layer":[
  {"data":{"name":"bands"},"mark":{"type":"rule","strokeDash":[1,4],"color":"#777","strokeWidth":1},
   "encoding":{"x":{"field":"doy","type":"quantitative","scale":{"domain":[44,65],"nice":false,"zero":false},"axis":{"orient":"top","labels":false,"title":null,"values":[44,45,46,47,48,49,50,51,52,53,54,55,56,57,58,59,60,61,62,63,64,65]}}}},
  {"data":{"name":"wind"},"mark":{"type":"line","color":"black","strokeWidth":1},
   "encoding":{"x":{"field":"doy","type":"quantitative","scale":{"domain":[44,65],"nice":false,"zero":false},"axis":{"orient":"bottom","title":null,"values":[44,45,46,47,48,49,50,51,52,53,54,55,56,57,58,59,60,61,62,63,64,65]}},
   "y":{"field":"ws","type":"quantitative","scale":{"domain":[0,30],"nice":false},"axis":{"orient":"left","title":"Wind speed (m s⁻¹)","values":[0,10,20,30]}}}},
  {"data":{"name":"blines"},"mark":{"type":"rule","color":"#222","strokeWidth":1},
   "encoding":{"x":{"field":"start","type":"quantitative","scale":{"domain":[44,65],"nice":false,"zero":false},"axis":null},"x2":{"field":"end"},
   "y":{"datum":26,"type":"quantitative","scale":{"domain":[0,30],"nice":false},"axis":{"orient":"right","labels":false,"title":null,"values":[0,10,20,30]}}}},
  {"data":{"name":"blines"},"mark":{"type":"text","fontSize":12,"color":"#555"},
   "encoding":{"x":{"field":"mid","type":"quantitative","scale":{"domain":[44,65],"nice":false,"zero":false},"axis":null},
   "y":{"datum":28.5,"type":"quantitative","scale":{"domain":[0,30],"nice":false},"axis":null},"text":{"field":"label"}}},
  {"data":{"values":[{"t":"(a)"}]},"mark":{"type":"text","align":"left","baseline":"middle","fontSize":22,"font":"Lato","color":"#1a1a2a"},
   "encoding":{"x":{"datum":44.4,"type":"quantitative","axis":null},"y":{"datum":22.6,"type":"quantitative","axis":null},"text":{"field":"t"}}}
 ],
 "resolve":{"axis":{"x":"independent","y":"independent"}}
},
{
 "width":1238,"height":204,
 "layer":[
  {"data":{"name":"bands"},"mark":{"type":"rule","strokeDash":[1,4],"color":"#777","strokeWidth":1},
   "encoding":{"x":{"field":"doy","type":"quantitative","scale":{"domain":[44,65],"nice":false,"zero":false},"axis":{"orient":"top","labels":false,"title":null,"values":[44,45,46,47,48,49,50,51,52,53,54,55,56,57,58,59,60,61,62,63,64,65]}}}},
  {"data":{"name":"err"},"mark":{"type":"rule","color":"#777","strokeWidth":1.5,"clip":true},
   "encoding":{"x":{"field":"doy","type":"quantitative","scale":{"domain":[44,65],"nice":false,"zero":false},"axis":null},
   "y":{"field":"lo","type":"quantitative","scale":{"domain":[0,45],"nice":false},"axis":{"orient":"right","labels":false,"title":null,"values":[0,20,40]}},"y2":{"field":"hi"}}},
  {"data":{"name":"err"},"mark":{"type":"tick","orient":"horizontal","color":"#777","size":9,"thickness":1.5,"clip":true},
   "encoding":{"x":{"field":"doy","type":"quantitative","scale":{"domain":[44,65],"nice":false,"zero":false},"axis":null},
   "y":{"field":"hi","type":"quantitative","scale":{"domain":[0,45],"nice":false},"axis":null}}},
  {"data":{"name":"err"},"mark":{"type":"tick","orient":"horizontal","color":"#777","size":9,"thickness":1.5,"clip":true},
   "encoding":{"x":{"field":"doy","type":"quantitative","scale":{"domain":[44,65],"nice":false,"zero":false},"axis":null},
   "y":{"field":"lo","type":"quantitative","scale":{"domain":[0,45],"nice":false},"axis":null}}},
  {"data":{"name":"dms"},"mark":{"type":"point","filled":true,"opacity":1,"strokeWidth":1},
   "encoding":{"x":{"field":"doy","type":"quantitative","scale":{"domain":[44,65],"nice":false,"zero":false},"axis":{"orient":"bottom","title":null,"values":[44,45,46,47,48,49,50,51,52,53,54,55,56,57,58,59,60,61,62,63,64,65]}},
   "y":{"field":"v","type":"quantitative","scale":{"domain":[0,45],"nice":false},"axis":{"orient":"left","title":"[DMS] in nM L⁻¹","values":[0,20,40]}},
   "fill":{"field":"s","type":"nominal","scale":{"domain":["int","6.0m","ssm","1.6m"],"range":["#000000","#0000ff","#ff0000","#ff00ff"]},
     "legend":{"orient":"none","legendX":990,"legendY":21,"title":null,"labelExpr":"datum.value == 'int' ? '[DMSᵢₙₜ]' : datum.value == '6.0m' ? '[DMS₆.₀ₘ]' : datum.value == 'ssm' ? 'Mean [DMSₛₛₘ] ± 2SE' : 'Mean [DMS₁.₆ₘ] ± 2SE'","labelFontSize":13,"labelColor":"#444","strokeColor":"#222","fillColor":"white","padding":10,"rowPadding":11,"labelOffset":22,"symbolStrokeWidth":1}},
   "shape":{"field":"s","type":"nominal","scale":{"domain":["int","6.0m","ssm","1.6m"],"range":["triangle-up","triangle-up","diamond","square"]}},
   "size":{"field":"s","type":"nominal","scale":{"type":"ordinal","domain":["int","6.0m","ssm","1.6m"],"range":[18,18,190,140]}},
   "stroke":{"field":"s","type":"nominal","scale":{"domain":["int","6.0m","ssm","1.6m"],"range":["#000000","#0000ff","#ff0000","#222222"]}}}},
  {"data":{"values":[{"t":"(b)"}]},"mark":{"type":"text","align":"left","baseline":"middle","fontSize":22,"font":"Lato","color":"#1a1a2a"},
   "encoding":{"x":{"datum":44.4,"type":"quantitative","axis":null},"y":{"datum":35.1,"type":"quantitative","axis":null},"text":{"field":"t"}}}
 ],
 "resolve":{"axis":{"x":"independent","y":"independent"}}
},
{
 "width":1238,"height":203,
 "layer":[
  {"data":{"name":"bands"},"mark":{"type":"rule","strokeDash":[1,4],"color":"#777","strokeWidth":1},
   "encoding":{"x":{"field":"doy","type":"quantitative","scale":{"domain":[44,65],"nice":false,"zero":false},"axis":{"orient":"top","labels":false,"title":null,"values":[44,45,46,47,48,49,50,51,52,53,54,55,56,57,58,59,60,61,62,63,64,65]}}}},
  {"data":{"values":[{"z":0}]},"mark":{"type":"rule","color":"black","strokeWidth":2},
   "encoding":{"y":{"field":"z","type":"quantitative","scale":{"domain":[-20,45],"nice":false},"axis":{"orient":"right","labels":false,"title":null,"values":[-20,0,20,40]}}}},
  {"data":{"name":"resid"},"mark":{"type":"point","shape":"circle","filled":false,"strokeWidth":1,"opacity":1},
   "encoding":{"x":{"field":"doy","type":"quantitative","scale":{"domain":[44,65],"nice":false,"zero":false},"axis":{"orient":"bottom","title":"DOY (UTC)","values":[44,45,46,47,48,49,50,51,52,53,54,55,56,57,58,59,60,61,62,63,64,65]}},
   "y":{"field":"v","type":"quantitative","scale":{"domain":[-20,45],"nice":false},"axis":{"orient":"left","title":"Residual [DMS] in µmoles m⁻² d⁻¹","values":[-20,0,20,40]}},
   "fill":{"field":"s","type":"nominal","scale":{"domain":["EC-derived","SSM-derived"],"range":["transparent","#ff0000"]},
     "legend":{"orient":"none","legendX":1053,"legendY":23,"title":null,"labelFontSize":13,"labelColor":"#444","strokeColor":"#222","fillColor":"white","padding":9,"rowPadding":5,"labelOffset":22,"symbolStrokeWidth":1}},
   "stroke":{"field":"s","type":"nominal","scale":{"domain":["EC-derived","SSM-derived"],"range":["#111111","#aa0000"]}},
   "size":{"field":"s","type":"nominal","scale":{"domain":["EC-derived","SSM-derived"],"range":[24,80]}}}},
  {"data":{"values":[{"t":"(c)"}]},"mark":{"type":"text","align":"left","baseline":"middle","fontSize":22,"font":"Lato","color":"#1a1a2a"},
   "encoding":{"x":{"datum":44.4,"type":"quantitative","axis":null},"y":{"datum":30.5,"type":"quantitative","axis":null},"text":{"field":"t"}}}
 ],
 "resolve":{"axis":{"x":"independent","y":"independent"}}
}
]
}
